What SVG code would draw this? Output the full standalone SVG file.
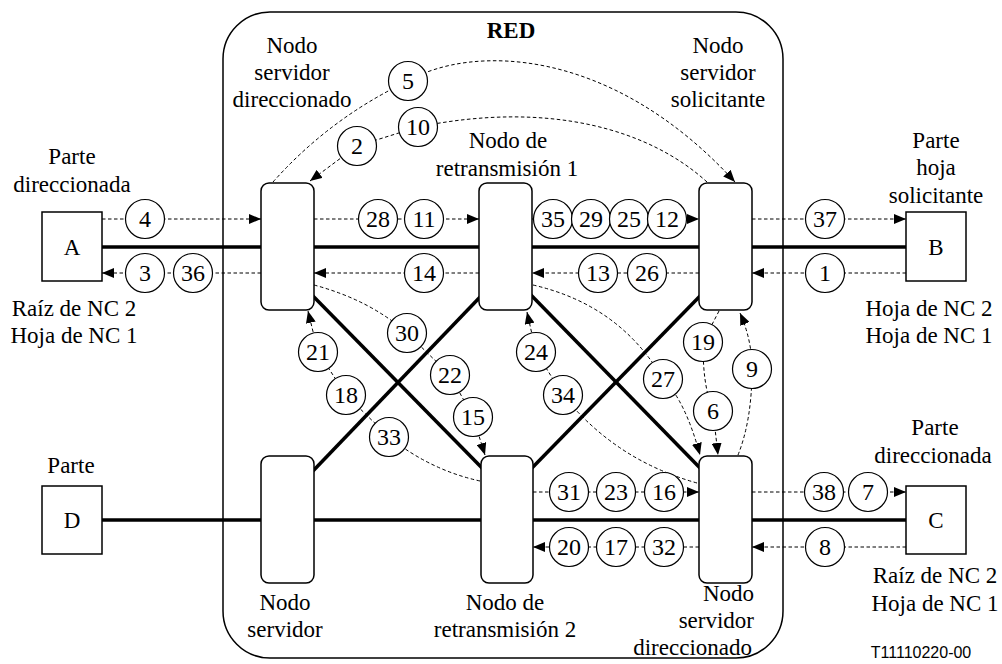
<svg xmlns="http://www.w3.org/2000/svg" width="1002" height="664" viewBox="0 0 1002 664">
<defs>
<marker id="ah" viewBox="0 0 12 10" refX="12" refY="5" markerWidth="12" markerHeight="10" markerUnits="userSpaceOnUse" orient="auto"><path d="M0,0 L12,5 L0,10 z" fill="#000"/></marker>
<style>
text{font-family:"Liberation Serif","Times New Roman",serif;font-size:23px;fill:#000;text-anchor:middle}
#steps text{font-size:24px}
.t{font-size:16px;font-family:"Liberation Sans",Arial,sans-serif}
.b{font-weight:bold}
.net{fill:none;stroke:#000;stroke-width:1.5}
.thick{stroke:#000;stroke-width:3.5;fill:none}
.node{fill:#fff;stroke:#000;stroke-width:1.5}
.box{fill:#fff;stroke:#000;stroke-width:1.5}
.d{fill:none;stroke:#000;stroke-width:1;stroke-dasharray:3.5 2.5;marker-end:url(#ah)}
.c{fill:#fff;stroke:#000;stroke-width:1.2}
</style>
</defs>
<rect width="1002" height="664" fill="#fff"/>
<g id="red">
<rect class="net" x="223" y="12" width="560" height="646" rx="47"/>
<text class="b" x="511" y="38">RED</text>
</g>
<g id="links">
<line class="thick" x1="102" y1="247" x2="906" y2="247"/>
<line class="thick" x1="102" y1="520" x2="906" y2="520"/>
<line class="thick" x1="312" y1="295" x2="483" y2="469"/>
<line class="thick" x1="312" y1="472" x2="482" y2="295"/>
<line class="thick" x1="530" y1="294" x2="701" y2="469"/>
<line class="thick" x1="531" y1="469" x2="701" y2="295"/>
</g>
<g id="party-A"><rect class="box" x="42" y="212" width="60" height="69"/><text x="72" y="255">A</text>
<text x="72" y="164">Parte</text><text x="72" y="192">direccionada</text>
<text x="74" y="316">Raíz de NC 2</text><text x="74" y="343">Hoja de NC 1</text></g>
<g id="party-B"><rect class="box" x="906" y="212" width="60" height="69"/><text x="936" y="255">B</text>
<text x="936" y="148">Parte</text><text x="936" y="175">hoja</text><text x="936" y="203">solicitante</text>
<text x="929" y="316">Hoja de NC 2</text><text x="929" y="343">Hoja de NC 1</text></g>
<g id="party-D"><rect class="box" x="42" y="486" width="60" height="68"/><text x="72" y="528">D</text>
<text x="71" y="473">Parte</text></g>
<g id="party-C"><rect class="box" x="906" y="486" width="60" height="68"/><text x="936" y="528">C</text>
<text x="935" y="435">Parte</text><text x="933" y="463">direccionada</text>
<text x="935" y="583">Raíz de NC 2</text><text x="935" y="611">Hoja de NC 1</text></g>
<g id="node-sa"><rect class="node" x="261" y="183" width="53" height="127" rx="8"/>
<text x="292" y="53">Nodo</text><text x="292" y="80">servidor</text><text x="292" y="107">direccionado</text></g>
<g id="node-r1"><rect class="node" x="479" y="183" width="53" height="127" rx="8"/>
<text x="508" y="148">Nodo de</text><text x="507" y="176">retransmisión 1</text></g>
<g id="node-ss"><rect class="node" x="699" y="183" width="53" height="127" rx="8"/>
<text x="718" y="53">Nodo</text><text x="718" y="80">servidor</text><text x="718" y="107">solicitante</text></g>
<g id="node-s"><rect class="node" x="261" y="456" width="53" height="127" rx="8"/>
<text x="285" y="610">Nodo</text><text x="285" y="637">servidor</text></g>
<g id="node-r2"><rect class="node" x="481" y="456" width="52" height="127" rx="8"/>
<text x="505" y="610">Nodo de</text><text x="505" y="637">retransmisión 2</text></g>
<g id="node-sd"><rect class="node" x="699" y="456" width="53" height="127" rx="8"/>
<text x="754" y="601" style="text-anchor:end">Nodo</text><text x="754" y="628" style="text-anchor:end">servidor</text><text x="752" y="655" style="text-anchor:end">direccionado</text></g>
<g id="connectors">
<path class="d" d="M102,219 L261,219"/>
<path class="d" d="M314,219 L479,219"/>
<path class="d" d="M532,219 L699,219"/>
<path class="d" d="M752,219 L906,219"/>
<path class="d" d="M906,273 L752,273"/>
<path class="d" d="M699,273 L532,273"/>
<path class="d" d="M479,273 L314,273"/>
<path class="d" d="M261,273 L102,273"/>
<path class="d" d="M533,492 L699,492"/>
<path class="d" d="M752,492 L906,492"/>
<path class="d" d="M906,547 L752,547"/>
<path class="d" d="M699,547 L533,547"/>
<path class="d" d="M273,182 Q330,118 408,81 C470,45 610,45 735,182"/>
<path class="d" d="M707,182 C650,130 550,100 418,127 L357,146 L310,181"/>
<path class="d" d="M480,481 Q430,470 389,437 L346,395 L318,352 L308,311"/>
<path class="d" d="M314,285 Q370,300 407,333 L450,375 L473,417 L485,455"/>
<path class="d" d="M697,483 Q615,460 563,395 L536,352 L527,312"/>
<path class="d" d="M533,285 Q620,305 663,379 Q685,400 700,455"/>
<path class="d" d="M719,311 L703,342 C703,370 705,390 713,411 L718,455"/>
<path class="d" d="M738,455 Q752,420 752,369 Q752,340 740,313"/>
</g>
<g id="steps">
<circle class="c" cx="145" cy="219" r="19.5"/><text x="145" y="227">4</text>
<circle class="c" cx="145" cy="273" r="19.5"/><text x="145" y="281">3</text>
<circle class="c" cx="193" cy="273" r="19.5"/><text x="193" y="281">36</text>
<circle class="c" cx="378" cy="219" r="19.5"/><text x="378" y="227">28</text>
<circle class="c" cx="424" cy="219" r="19.5"/><text x="424" y="227">11</text>
<circle class="c" cx="424" cy="273" r="19.5"/><text x="424" y="281">14</text>
<circle class="c" cx="553" cy="219" r="19.5"/><text x="553" y="227">35</text>
<circle class="c" cx="591" cy="219" r="19.5"/><text x="591" y="227">29</text>
<circle class="c" cx="629" cy="219" r="19.5"/><text x="629" y="227">25</text>
<circle class="c" cx="667" cy="219" r="19.5"/><text x="667" y="227">12</text>
<circle class="c" cx="598" cy="273" r="19.5"/><text x="598" y="281">13</text>
<circle class="c" cx="647" cy="273" r="19.5"/><text x="647" y="281">26</text>
<circle class="c" cx="825" cy="219" r="19.5"/><text x="825" y="227">37</text>
<circle class="c" cx="825" cy="273" r="19.5"/><text x="825" y="281">1</text>
<circle class="c" cx="408" cy="81" r="19.5"/><text x="408" y="89">5</text>
<circle class="c" cx="418" cy="127" r="19.5"/><text x="418" y="135">10</text>
<circle class="c" cx="357" cy="146" r="19.5"/><text x="357" y="154">2</text>
<circle class="c" cx="318" cy="352" r="19.5"/><text x="318" y="360">21</text>
<circle class="c" cx="346" cy="395" r="19.5"/><text x="346" y="403">18</text>
<circle class="c" cx="389" cy="437" r="19.5"/><text x="389" y="445">33</text>
<circle class="c" cx="407" cy="333" r="19.5"/><text x="407" y="341">30</text>
<circle class="c" cx="450" cy="375" r="19.5"/><text x="450" y="383">22</text>
<circle class="c" cx="473" cy="417" r="19.5"/><text x="473" y="425">15</text>
<circle class="c" cx="536" cy="352" r="19.5"/><text x="536" y="360">24</text>
<circle class="c" cx="563" cy="395" r="19.5"/><text x="563" y="403">34</text>
<circle class="c" cx="663" cy="379" r="19.5"/><text x="663" y="387">27</text>
<circle class="c" cx="703" cy="342" r="19.5"/><text x="703" y="350">19</text>
<circle class="c" cx="713" cy="411" r="19.5"/><text x="713" y="419">6</text>
<circle class="c" cx="752" cy="369" r="19.5"/><text x="752" y="377">9</text>
<circle class="c" cx="569" cy="492" r="19.5"/><text x="569" y="500">31</text>
<circle class="c" cx="616" cy="492" r="19.5"/><text x="616" y="500">23</text>
<circle class="c" cx="664" cy="492" r="19.5"/><text x="664" y="500">16</text>
<circle class="c" cx="569" cy="547" r="19.5"/><text x="569" y="555">20</text>
<circle class="c" cx="616" cy="547" r="19.5"/><text x="616" y="555">17</text>
<circle class="c" cx="664" cy="547" r="19.5"/><text x="664" y="555">32</text>
<circle class="c" cx="824" cy="492" r="19.5"/><text x="824" y="500">38</text>
<circle class="c" cx="868" cy="492" r="19.5"/><text x="868" y="500">7</text>
<circle class="c" cx="825" cy="547" r="19.5"/><text x="825" y="555">8</text>
</g>
<text class="t" x="921" y="658">T11110220-00</text>
</svg>
